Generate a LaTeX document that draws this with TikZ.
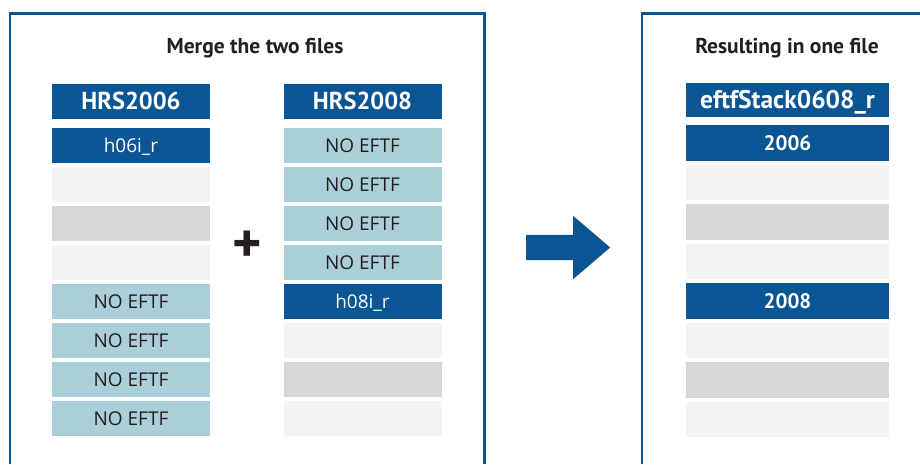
\documentclass[tikz,border=0pt]{standalone}
\usepackage{fontspec}
\setmainfont{PT Sans}
\newfontfamily\cellfont{Open Sans}
\usetikzlibrary{positioning, shapes.arrows}

\definecolor{hrsblue}{RGB}{10,85,148}
\definecolor{eftfteal}{RGB}{170,207,216}
\definecolor{rowlight}{RGB}{243,244,246}
\definecolor{rowgrey}{RGB}{216,216,216}
\definecolor{inkdark}{RGB}{35,31,32}

\begin{document}
\begin{tikzpicture}[x=1pt, y=-1pt,
            panel/.style={draw=hrsblue, line width=2.6pt},
            caption/.style={font=\bfseries\fontsize{21.5}{24}\selectfont, text=inkdark},
            head/.style={fill=hrsblue, text=white, inner sep=0pt, minimum height=35pt, text height=17pt, text depth=0pt, font=\bfseries\fontsize{24.5}{28}\selectfont},
            cell/.style={inner sep=0pt, minimum height=35.5pt, text height=13.5pt, text depth=0pt},
            fileid/.style={cell, fill=hrsblue, text=white, font=\cellfont\fontsize{19}{22}\selectfont},
            yearrow/.style={cell, fill=hrsblue, text=white, text height=14.5pt, font=\bfseries\fontsize{21}{24}\selectfont},
            noeftf/.style={cell, fill=eftfteal, text=inkdark, font=\cellfont\fontsize{19}{22}\selectfont},
            emptyrow/.style={cell, fill=rowlight},
            greyrow/.style={cell, fill=rowgrey},
            colin/.style={minimum width=158pt},
            colout/.style={minimum width=203pt}]

            \useasboundingbox (0,0) rectangle (920,464);

            % Panels, open at the bottom edge
            \draw[panel] (10,464) -- (10,13.5) -- (484.5,13.5) -- (484.5,464);
            \draw[panel] (642,464) -- (642,13.5) -- (922,13.5);

            % Left panel: the two input files
            \node[caption] (mergetitle) at (255,48) {Merge the two files};

            \node[head, colin] (hrs06) at (131,101) {HRS2006};
            \node[fileid, colin, below=9pt of hrs06] (h06) {h06i\_r};
            \node[emptyrow, colin, below=3.1pt of h06] (a2) {};
            \node[greyrow, colin, below=3.1pt of a2] (a3) {};
            \node[emptyrow, colin, below=3.1pt of a3] (a4) {};
            \node[noeftf, colin, below=3.1pt of a4] (a5) {NO EFTF};
            \node[noeftf, colin, below=3.1pt of a5] (a6) {NO EFTF};
            \node[noeftf, colin, below=3.1pt of a6] (a7) {NO EFTF};
            \node[noeftf, colin, below=3.1pt of a7] (a8) {NO EFTF};

            \node[head, colin] (hrs08) at (362.5,101) {HRS2008};
            \node[noeftf, colin, below=9pt of hrs08] (b1) {NO EFTF};
            \node[noeftf, colin, below=3.1pt of b1] (b2) {NO EFTF};
            \node[noeftf, colin, below=3.1pt of b2] (b3) {NO EFTF};
            \node[noeftf, colin, below=3.1pt of b3] (b4) {NO EFTF};
            \node[fileid, colin, below=3.1pt of b4] (h08) {h08i\_r};
            \node[emptyrow, colin, below=3.1pt of h08] (b6) {};
            \node[greyrow, colin, below=3.1pt of b6] (b7) {};
            \node[emptyrow, colin, below=3.1pt of b7] (b8) {};

            \node[font=\bfseries\fontsize{56}{56}\selectfont, text=inkdark, inner sep=0pt] (plus) at (247,247) {+};

            % Block arrow between the panels
            \node[single arrow, fill=hrsblue, inner sep=12.5pt, minimum width=63pt, minimum height=84pt,
                  single arrow head extend=19pt, single arrow tip angle=81, anchor=tail] (mergearrow) at (526,247.5) {};

            % Right panel: the stacked file
            \node[caption] (resulttitle) at (787,48) {Resulting in one file};

            \node[head, colout, minimum height=34pt, text height=16pt, font=\bfseries\fontsize{25.5}{28}\selectfont] (stack) at (787.5,100) {eftfStack0608\_r};
            \node[yearrow, colout, below=8pt of stack] (y06) {2006};
            \node[emptyrow, colout, below=3.6pt of y06] (c2) {};
            \node[greyrow, colout, below=3.6pt of c2] (c3) {};
            \node[emptyrow, colout, below=3.6pt of c3] (c4) {};
            \node[yearrow, colout, below=3.6pt of c4] (y08) {2008};
            \node[emptyrow, colout, below=3.6pt of y08] (c6) {};
            \node[greyrow, colout, below=3.6pt of c6] (c7) {};
            \node[emptyrow, colout, below=3.6pt of c7] (c8) {};
        \end{tikzpicture}
\end{document}
